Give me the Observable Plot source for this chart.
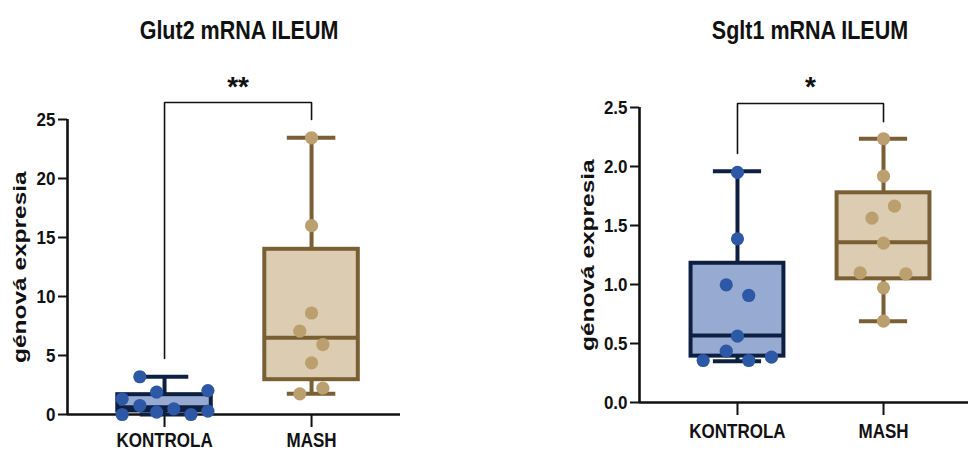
<!DOCTYPE html>
<html><head><meta charset="utf-8">
<script src="https://cdn.jsdelivr.net/npm/d3@7"></script>
<script src="https://cdn.jsdelivr.net/npm/@observablehq/plot@0.6"></script>
<style>
body{margin:0;background:#fff;}
#wrap{position:relative;width:968px;height:451px;overflow:hidden;font-family:"Liberation Sans",Arial,sans-serif;background:#fff;}
.panel{position:absolute;top:0;}
.title{position:absolute;top:21px;font-weight:bold;font-size:21.5px;line-height:21px;white-space:nowrap;transform:translateX(-50%) scaleY(1.2);color:#111;}
</style></head><body>
<div id="wrap"></div>
<script>
// ---------- data ----------
const categories = ["KONTROLA", "MASH"];
const titles = ["Glut2 mRNA ILEUM", "Sglt1 mRNA ILEUM"];
const yLabel = "génová expresia";

// Glut2
const glutKontrola = [3.2, 1.89, 2.03, 1.33, 0.76, 0.0, 0.2, 0.48, 0.0, 0.28];
const glutKontrolaSpread = [-0.168, -0.054, 0.295, -0.288, -0.168, -0.288, -0.054, 0.063, 0.18, 0.295];
const glutMash = [23.45, 16.0, 8.6, 7.06, 5.93, 4.38, 2.23, 1.75];
const glutMashSpread = [0, 0, 0, -0.08, 0.077, 0, 0.077, -0.08];
const glutMin = [0, 1.75];
const glutQ1 = [0.3, 2.95];
const glutMedian = [0.62, 6.5];
const glutQ3 = [1.68, 14.0];
const glutMax = [3.2, 23.45];
const glutBracket = [4.75, 26.44, 26.44, 25.0];
const glutSig = "**";
const glutTicks = [0, 5, 10, 15, 20, 25];

// Sglt1
const sgltKontrola = [1.95, 1.387, 0.997, 0.907, 0.562, 0.435, 0.356, 0.356, 0.384];
const sgltKontrolaSpread = [0, 0, -0.077, 0.077, 0, -0.077, -0.235, 0.077, 0.233];
const sgltMash = [2.235, 1.918, 1.664, 1.562, 1.35, 1.099, 1.09, 0.972, 0.689];
const sgltMashSpread = [0, 0, 0.075, -0.079, 0, -0.16, 0.153, 0, 0];
const sgltMin = [0.35, 0.689];
const sgltQ1 = [0.393, 1.048];
const sgltMedian = [0.568, 1.359];
const sgltQ3 = [1.18, 1.777];
const sgltMax = [1.96, 2.235];
const sgltBracket = [2.11, 2.534, 2.534, 2.38];
const sgltSig = "*";
const sgltTicks = [0, 0.5, 1.0, 1.5, 2.0, 2.5];

const bracketX = [0, 0, 1, 1];

// ---------- styling ----------
const fillColors = ["#96aad2", "#dbccb2"];
const strokeColors = ["#0e2042", "#7a5f35"];
const dotColors = ["#2c58a6", "#bb9f6e"];
const BW = 0.318, CW = 0.165;

function stretch(svg, texts, k) {
  const sr = svg.getBoundingClientRect();
  texts.forEach(t => {
    const r = t.getBoundingClientRect();
    const cy = r.top + r.height / 2 - sr.top;
    const m = t.parentNode.getCTM();
    const cyP = (cy - m.f) / m.d;
    const g = document.createElementNS("http://www.w3.org/2000/svg", "g");
    g.setAttribute("transform", `translate(0,${cyP}) scale(1,${k}) translate(0,${-cyP})`);
    t.parentNode.insertBefore(g, t);
    g.appendChild(t);
  });
}

function panel(cfg) {
  const boxes = categories.map((c, i) => ({
    i, min: cfg.min[i], q1: cfg.q1[i], med: cfg.med[i], q3: cfg.q3[i], max: cfg.max[i],
    fill: fillColors[i], stroke: strokeColors[i]
  }));
  const pts = [
    ...cfg.kontrola.map((v, j) => ({i: 0, v, s: cfg.kSpread[j], c: dotColors[0]})),
    ...cfg.mash.map((v, j) => ({i: 1, v, s: cfg.mSpread[j], c: dotColors[1]}))
  ];
  const bracket = bracketX.map((x, j) => ({x, y: cfg.bracket[j]}));
  const yTop = d3.max(cfg.ticks);
  const txt = {fontWeight: "bold", fill: "#111"};
  return Plot.plot({
    width: 484, height: 451,
    marginLeft: cfg.ml, marginRight: cfg.mr, marginTop: cfg.mt, marginBottom: cfg.mb,
    style: {fontFamily: '"Liberation Sans", Arial, sans-serif', color: "#111", background: "transparent", overflow: "visible"},
    x: {type: "linear", domain: cfg.xDomain, axis: null},
    y: {domain: [0, yTop], axis: null},
    marks: [
      Plot.ruleY([0], {stroke: "#111", strokeWidth: 2.6}),
      Plot.ruleX([cfg.xDomain[0]], {y1: 0, y2: yTop, stroke: "#111", strokeWidth: 2.6}),
      Plot.axisY(cfg.ticks, {tickSize: 9, tickPadding: 3, stroke: "#111", strokeWidth: 2, fontSize: 17, ...txt, tickFormat: cfg.fmt}),
      Plot.axisX([0, 1], {tickSize: 13, tickPadding: cfg.xPad, stroke: "#111", strokeWidth: 2, fontSize: 17, ...txt, tickFormat: i => categories[i]}),
      Plot.rect(boxes, {x1: d => d.i - BW, x2: d => d.i + BW, y1: "q1", y2: "q3", fill: "fill"}),
      Plot.ruleX(boxes, {x: "i", y1: "q3", y2: "max", stroke: "stroke", strokeWidth: 4}),
      Plot.ruleX(boxes, {x: "i", y1: "min", y2: "q1", stroke: "stroke", strokeWidth: 4}),
      Plot.ruleY(boxes, {y: "max", x1: d => d.i - CW, x2: d => d.i + CW, stroke: "stroke", strokeWidth: 4}),
      Plot.ruleY(boxes, {y: "min", x1: d => d.i - CW, x2: d => d.i + CW, stroke: "stroke", strokeWidth: 4}),
      Plot.rect(boxes, {x1: d => d.i - BW, x2: d => d.i + BW, y1: "q1", y2: "q3", fill: "none", stroke: "stroke", strokeWidth: 4}),
      Plot.ruleY(boxes, {y: "med", x1: d => d.i - BW, x2: d => d.i + BW, stroke: "stroke", strokeWidth: 4}),
      Plot.line(bracket, {x: "x", y: "y", stroke: "#111", strokeWidth: 1.6, strokeLinejoin: "miter", curve: "linear"}),
      Plot.text([cfg.sig], {text: d => d, x: 0.5, y: cfg.bracket[1], dy: -7, lineAnchor: "bottom", fontSize: 28, ...txt}),
      Plot.text([yLabel], {text: d => d, frameAnchor: "left", textAnchor: "middle", lineAnchor: "middle", rotate: -90, dx: cfg.ylDx, fontSize: 18, ...txt}),
      Plot.dot(pts, {x: d => d.i + d.s, y: "v", r: 6.6, fill: "c", stroke: null})
    ]
  });
}

const wrap = document.getElementById("wrap");
const cfgs = [
  {left: 0, title: titles[0], titleX: 239, kontrola: glutKontrola, kSpread: glutKontrolaSpread, mash: glutMash, mSpread: glutMashSpread,
   min: glutMin, q1: glutQ1, med: glutMedian, q3: glutQ3, max: glutMax, bracket: glutBracket, sig: glutSig,
   ticks: glutTicks, fmt: d3.format("d"), ml: 67, mr: 84, mt: 119, mb: 37, xDomain: [-0.66, 1.605], ylDx: -47, xPad: 6},
  {left: 484, title: titles[1], titleX: 810, kontrola: sgltKontrola, kSpread: sgltKontrolaSpread, mash: sgltMash, mSpread: sgltMashSpread,
   min: sgltMin, q1: sgltQ1, med: sgltMedian, q3: sgltQ3, max: sgltMax, bracket: sgltBracket, sig: sgltSig,
   ticks: sgltTicks, fmt: d3.format(".1f"), ml: 155, mr: 0, mt: 107, mb: 49, xDomain: [-0.671, 1.582], ylDx: -51, xPad: 9}
];
for (const cfg of cfgs) {
  const div = document.createElement("div");
  div.className = "panel";
  div.style.left = cfg.left + "px";
  const svg = panel(cfg);
  div.appendChild(svg);
  wrap.appendChild(div);
  stretch(svg, svg.querySelectorAll('g[aria-label="y-axis tick label"] text'), 1.12);
  stretch(svg, svg.querySelectorAll('g[aria-label="x-axis tick label"] text'), 1.22);
  stretch(svg, [...svg.querySelectorAll('text')].filter(t => (t.getAttribute("transform") || "").includes("rotate")), 1.36);
  const t = document.createElement("div");
  t.className = "title";
  t.style.left = cfg.titleX + "px";
  t.textContent = cfg.title;
  wrap.appendChild(t);
}
</script>
</body></html>
